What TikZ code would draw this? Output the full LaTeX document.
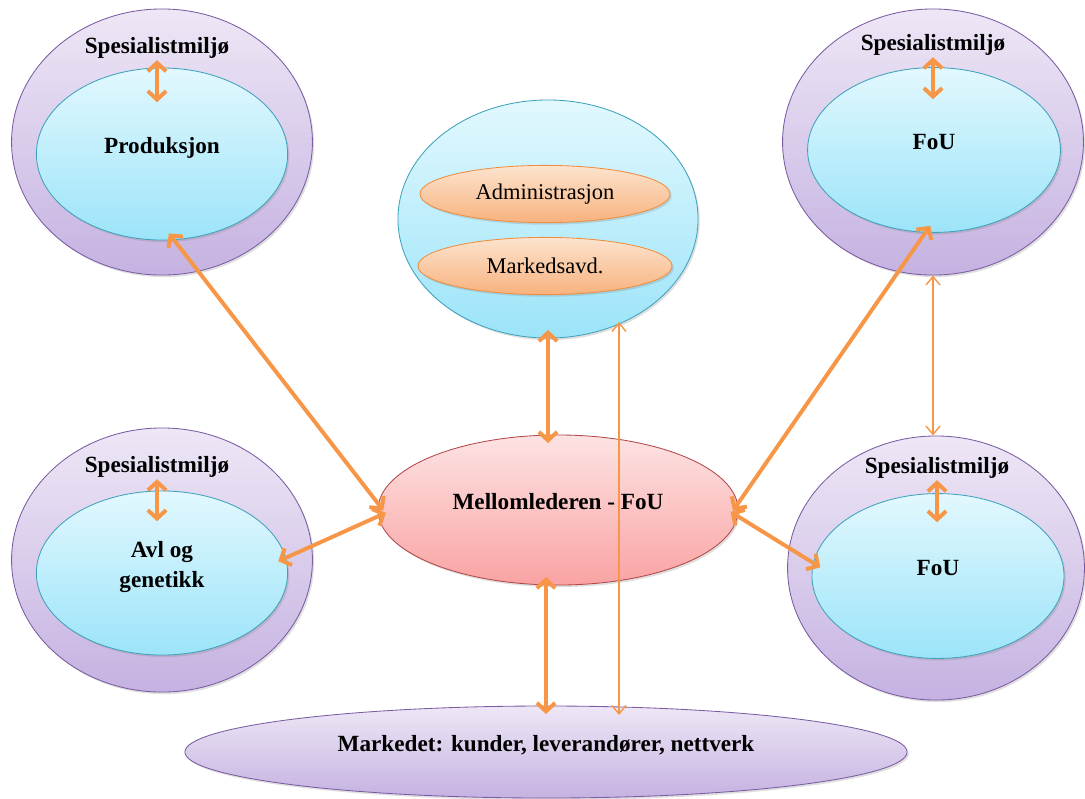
\documentclass[tikz,border=0pt]{standalone}
\usepackage{fontspec}
\setmainfont{Liberation Serif}
\usepackage{tikz}
\usetikzlibrary{shapes.geometric}
\usetikzlibrary{arrows.meta}
\usetikzlibrary{shadows}
\usetikzlibrary{calc}

\definecolor{lilatop}{HTML}{EEE7F6}
\definecolor{lilabot}{HTML}{C5B2E1}
\definecolor{lilakant}{HTML}{7A5CA3}
\definecolor{blatop}{HTML}{E2F8FE}
\definecolor{blabot}{HTML}{9CE4F9}
\definecolor{blakant}{HTML}{3FA2BC}
\definecolor{oransjetop}{HTML}{FCE4CF}
\definecolor{oransjebot}{HTML}{F8B27D}
\definecolor{oransjekant}{HTML}{EE8E3E}
\definecolor{rodtop}{HTML}{FDE3E3}
\definecolor{rodbot}{HTML}{FAA3A3}
\definecolor{rodkant}{HTML}{B2484A}
\definecolor{pil}{HTML}{F79646}

\begin{document}
\begin{tikzpicture}[
        x=0.025cm,
        y=-0.025cm,
        skygge/.style={drop shadow={shadow xshift=1.2pt, shadow yshift=-1.5pt, opacity=0.25}},
        miljo/.style={ellipse, draw=lilakant, line width=0.6pt, top color=lilatop, bottom color=lilabot, skygge, minimum width=7.52cm, minimum height=6.65cm},
        enhet/.style={ellipse, draw=blakant, line width=0.6pt, top color=blatop, bottom color=blabot, skygge, minimum width=6.3cm, minimum height=4.15cm, tittel, text depth=12pt, align=center},
        avd/.style={ellipse, draw=oransjekant, line width=0.6pt, top color=oransjetop, bottom color=oransjebot, skygge, minimum width=6.3cm, minimum height=1.43cm, font=\fontsize{16}{19}\selectfont},
        tittel/.style={font=\bfseries\fontsize{16.5}{21}\selectfont},
        etikett/.style={tittel, inner sep=1pt},
        tykkpil/.style={draw=pil, line width=2.8pt, {Straight Barb[length=6pt,width=13pt]}-{Straight Barb[length=6pt,width=13pt]}, shorten <=-6pt, shorten >=-6pt},
        litenpil/.style={draw=pil, line width=2.8pt, {Straight Barb[length=6pt,width=13pt]}-{Straight Barb[length=6pt,width=13pt]}},
        tynnpil/.style={draw=pil, line width=1pt, {Straight Barb[length=6pt,width=10pt]}-{Straight Barb[length=6pt,width=10pt]}}
    ]
        \useasboundingbox (0,0) rectangle (1085,798);

        \node[miljo] (miljoA) at (162,142) {};
        \node[miljo] (miljoB) at (933,142) {};
        \node[miljo, minimum height=6.6cm] (miljoC) at (162,560) {};
        \node[miljo, minimum width=7.42cm, minimum height=6.6cm] (miljoD) at (936,568) {};

        \node[enhet, minimum width=6.28cm, minimum height=4.3cm] (prod) at (162,154) {Produksjon};
        \node[enhet, minimum width=6.32cm, minimum height=4.12cm] (fouA) at (934,150) {FoU};
        \node[enhet, minimum width=6.28cm, minimum height=4.1cm] (avl) at (162,573) {Avl og\\genetikk};
        \node[enhet, minimum width=6.3cm, minimum height=4.12cm] (fouB) at (938,576) {FoU};

        \node[etikett] (spesA) at (157,48) {Spesialistmiljø};
        \node[etikett] (spesB) at (933,45) {Spesialistmiljø};
        \node[etikett] (spesC) at (157,467) {Spesialistmiljø};
        \node[etikett] (spesD) at (937,468) {Spesialistmiljø};

        \node[ellipse, draw=blakant, line width=0.6pt, top color=blatop, bottom color=blabot, skygge, minimum width=7.5cm, minimum height=5.95cm] (org) at (548,219) {};
        \node[avd, minimum width=6.25cm] (adm) at (545,194) {Administrasjon};
        \node[avd, minimum width=6.35cm] (mark) at (545,266) {Markedsavd.};

        \node[ellipse, draw=rodkant, line width=0.6pt, top color=rodtop, bottom color=rodbot, skygge, minimum width=9cm, minimum height=3.75cm, tittel, text depth=12pt] (mell) at (558,510) {Mellomlederen - FoU};

        \node[ellipse, draw=lilakant, line width=0.6pt, top color=lilatop, bottom color=lilabot, skygge, minimum width=18.05cm, minimum height=2.3cm, tittel, text depth=12pt] (marked) at (546,752) {Markedet: kunder, leverandører, nettverk};

        \draw[litenpil] (spesA.south) -- ++(0,42);
        \draw[litenpil] (spesB.south) -- ++(0,42);
        \draw[litenpil] (spesC.south) -- ++(0,42);
        \draw[litenpil] (spesD.south) -- ++(0,42);

        \draw[tykkpil] (prod.-82) -- (mell.178);
        \draw[tykkpil] (avl.7) -- (mell.182);
        \draw[tykkpil] (fouA.-96) -- (mell.2);
        \draw[tykkpil] (mell.-2) -- (fouB.174);
        \draw[tykkpil] (org.south) -- (org.south |- mell.north);
        \draw[tykkpil] (marked.north |- mell.south) -- (marked.north);

        % tynne linjer
        \coordinate (linjeA) at (619,322);
        \coordinate (linjeB) at (619,715);
        \draw[tynnpil] (linjeA) -- (linjeB);
        \draw[tynnpil] (miljoB.south) -- (miljoB.south |- miljoD.north);

    \end{tikzpicture}
\end{document}
